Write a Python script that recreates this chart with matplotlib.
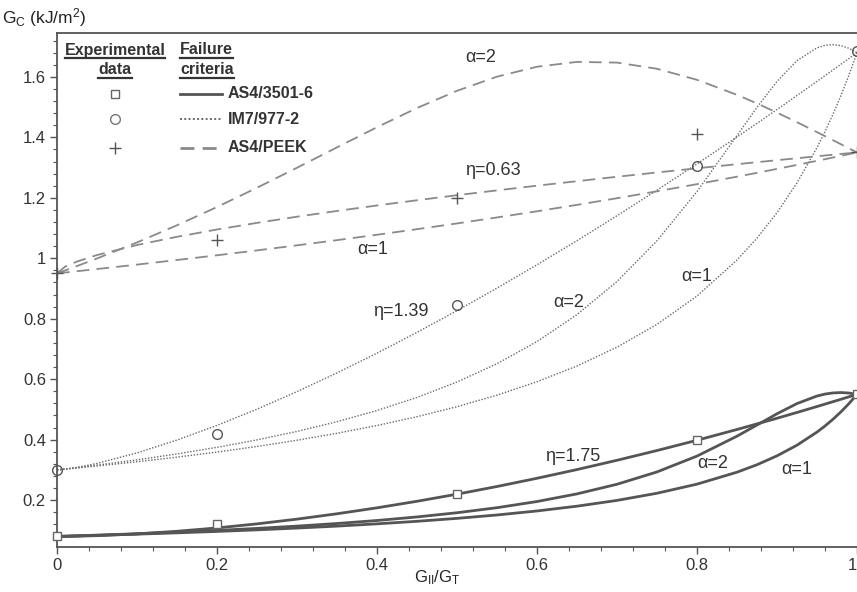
import matplotlib
matplotlib.use("Agg")
import matplotlib.pyplot as plt
from matplotlib.lines import Line2D
from matplotlib.ticker import MultipleLocator, FixedLocator

plt.rcParams['font.family'] = ['Liberation Sans', 'DejaVu Sans']
plt.rcParams['mathtext.fontset'] = 'custom'
plt.rcParams['mathtext.rm'] = 'Liberation Sans'
plt.rcParams['mathtext.it'] = 'Liberation Sans'
plt.rcParams['mathtext.bf'] = 'Liberation Sans:bold'

# ---- data ----
mode_ratio = [0, 0.01, 0.025, 0.05, 0.1, 0.15, 0.2, 0.25, 0.3, 0.35, 0.4, 0.45, 0.5,
              0.55, 0.6, 0.65, 0.7, 0.75, 0.8, 0.85, 0.875, 0.9, 0.925, 0.95,
              0.96, 0.97, 0.98, 0.99, 1.0]

# AS4/3501-6
as4_bk = [0.080, 0.0801, 0.0807, 0.0825, 0.0884, 0.0970, 0.1081, 0.1215, 0.1372, 0.1549,
          0.1746, 0.1962, 0.2197, 0.2451, 0.2723, 0.3011, 0.3318, 0.3641, 0.3980,
          0.4337, 0.4521, 0.4708, 0.4900, 0.5096, 0.5176, 0.5256, 0.5336, 0.5418, 0.55]
as4_a1 = [0.0800, 0.0807, 0.0818, 0.0836, 0.0875, 0.0918, 0.0965, 0.1017, 0.1076, 0.1141,
          0.1216, 0.1300, 0.1397, 0.1509, 0.1642, 0.1800, 0.1991, 0.2228, 0.2529,
          0.2924, 0.3171, 0.3465, 0.3818, 0.4251, 0.4453, 0.4676, 0.4922, 0.5195, 0.55]
as4_a2 = [0.0800, 0.0808, 0.0821, 0.0842, 0.0889, 0.0941, 0.0999, 0.1065, 0.1141, 0.1227,
          0.1327, 0.1444, 0.1583, 0.1750, 0.1954, 0.2207, 0.2525, 0.2933, 0.3457,
          0.4116, 0.4485, 0.4856, 0.5194, 0.5444, 0.5508, 0.5546, 0.5558, 0.5542, 0.55]

# IM7/977-2
im7_bk = [0.300, 0.3023, 0.3082, 0.3215, 0.3562, 0.3988, 0.4472, 0.5009, 0.5589, 0.6207,
          0.6861, 0.7548, 0.8266, 0.9013, 0.9784, 1.0583, 1.1406, 1.2252, 1.3121,
          1.4010, 1.4462, 1.4919, 1.5383, 1.5851, 1.6040, 1.6227, 1.6418, 1.6608, 1.68]
im7_a1 = [0.3000, 0.3025, 0.3063, 0.3129, 0.3269, 0.3422, 0.3590, 0.3775, 0.3981, 0.4211,
          0.4468, 0.4759, 0.5091, 0.5472, 0.5916, 0.6437, 0.7059, 0.7814, 0.8750,
          0.9941, 1.0667, 1.1507, 1.2491, 1.3659, 1.4189, 1.4763, 1.5385, 1.6061, 1.68]
im7_a2 = [0.3000, 0.3030, 0.3077, 0.3158, 0.3333, 0.3528, 0.3746, 0.3993, 0.4273, 0.4594,
          0.4965, 0.5397, 0.5907, 0.6513, 0.7245, 0.8136, 0.9231, 1.0578, 1.2206,
          1.4058, 1.4993, 1.5849, 1.6537, 1.6963, 1.7042, 1.7065, 1.7032, 1.6943, 1.68]

# AS4/PEEK
peek_bk = [0.950, 0.9720, 0.9891, 1.0106, 1.0438, 1.0710, 1.0951, 1.1170, 1.1374, 1.1564,
           1.1746, 1.1918, 1.2085, 1.2245, 1.2400, 1.2549, 1.2695, 1.2837, 1.2975,
           1.3111, 1.3177, 1.3243, 1.3308, 1.3373, 1.3398, 1.3424, 1.3450, 1.3474, 1.35]
peek_a1 = [0.9500, 0.9528, 0.9571, 0.9643, 0.9790, 0.9942, 1.0098, 1.0260, 1.0427, 1.0599,
           1.0777, 1.0962, 1.1152, 1.1350, 1.1554, 1.1766, 1.1986, 1.2214, 1.2451,
           1.2698, 1.2825, 1.2955, 1.3087, 1.3222, 1.3276, 1.3332, 1.3387, 1.3443, 1.35]
peek_a2 = [0.9500, 0.9596, 0.9742, 0.9993, 1.0523, 1.1091, 1.1695, 1.2332, 1.2993, 1.3667,
           1.4334, 1.4969, 1.5538, 1.6006, 1.6334, 1.6494, 1.6471, 1.6267, 1.5901,
           1.5405, 1.5120, 1.4817, 1.4499, 1.4171, 1.4038, 1.3904, 1.3770, 1.3635, 1.35]

# experimental points
exp_x = [0, 0.2, 0.5, 0.8, 1.0]
as4_exp = [0.08, 0.12, 0.22, 0.40, 0.55]
im7_exp = [0.30, 0.42, 0.845, 1.305, 1.685]
peek_x = [0, 0.2, 0.5, 0.8, 1.0]
peek_exp = [0.95, 1.06, 1.20, 1.41, 1.35]

W, H = 857, 592
fig = plt.figure(figsize=(W / 100, H / 100), dpi=100)
ax = fig.add_axes([57 / W, 1 - 547 / H, 800 / W, (547 - 33) / H])

c_as4 = '#555555'
c_im7 = '#6a6a6a'
c_peek = '#8a8a8a'

dash_peek = (0, (7, 4))
dot_im7 = (0, (1, 1.2))

for ys in (as4_bk, as4_a1, as4_a2):
    ax.plot(mode_ratio, ys, color=c_as4, lw=2.0, solid_capstyle='round')
for ys in (im7_bk, im7_a1, im7_a2):
    ax.plot(mode_ratio, ys, color=c_im7, lw=1.0, linestyle=dot_im7)
for ys in (peek_bk, peek_a1, peek_a2):
    ax.plot(mode_ratio, ys, color=c_peek, lw=1.3, linestyle=dash_peek)

ax.plot(exp_x, as4_exp, linestyle='none', marker='s', ms=6, mfc='white', mec='#666666',
        mew=1.0, clip_on=False, zorder=5)
ax.plot(exp_x, im7_exp, linestyle='none', marker='o', ms=7, mfc='none', mec='#555555',
        mew=1.0, clip_on=False, zorder=5)
ax.plot(peek_x, peek_exp, linestyle='none', marker='+', ms=8, mec='#555555',
        mew=1.0, clip_on=False, zorder=5)

ax.set_xlim(0, 1.0)
ax.set_ylim(0.045, 1.745)
ax.spines['right'].set_visible(False)
for s in ('left', 'bottom', 'top'):
    ax.spines[s].set_color('#555555')
    ax.spines[s].set_linewidth(1.3)

ax.xaxis.set_major_locator(FixedLocator([0, 0.2, 0.4, 0.6, 0.8, 1.0]))
ax.set_xticklabels(['0', '0.2', '0.4', '0.6', '0.8', '1'])
ax.xaxis.set_minor_locator(MultipleLocator(0.04))
ax.yaxis.set_major_locator(FixedLocator([0.2, 0.4, 0.6, 0.8, 1.0, 1.2, 1.4, 1.6]))
ax.set_yticklabels(['0.2', '0.4', '0.6', '0.8', '1', '1.2', '1.4', '1.6'])
ax.yaxis.set_minor_locator(MultipleLocator(0.04))
ax.tick_params(axis='both', which='major', direction='out', length=5, width=1,
               color='#555555', labelsize=12, labelcolor='#333333', pad=3)
ax.tick_params(axis='both', which='minor', direction='out', length=3, width=0.8,
               color='#555555')
ax.tick_params(axis='x', which='both', top=False)
ax.get_xticklabels()[-1].set_horizontalalignment('right')

# axis titles
fig.text(2 / W, 1 - 18 / H, r'G$_\mathrm{C}$ (kJ/m$^\mathrm{2}$)', fontsize=12.5,
         color='#222222', ha='left', va='center')
fig.text(437 / W, 1 - 578 / H, r'G$_\mathrm{II}$/G$_\mathrm{T}$', fontsize=12,
         color='#222222', ha='center', va='center')

# curve annotations
ann = [
    (0.53, 1.665, 'α=2'),
    (0.545, 1.29, 'η=0.63'),
    (0.395, 1.03, 'α=1'),
    (0.43, 0.825, 'η=1.39'),
    (0.64, 0.855, 'α=2'),
    (0.80, 0.94, 'α=1'),
    (0.645, 0.345, 'η=1.75'),
    (0.82, 0.32, 'α=2'),
    (0.925, 0.30, 'α=1'),
]
for x, y, t in ann:
    ax.text(x, y, t, fontsize=13, color='#333333', ha='center', va='center')

# custom legend (in figure pixel coordinates)
def fx(px):
    return px / W

def fy(py):
    return 1 - py / H

hdr = dict(fontsize=11.5, fontweight='bold', color='#333333', va='center')
t1 = fig.text(fx(115), fy(50), 'Experimental', ha='center', **hdr)
t2 = fig.text(fx(115), fy(70), 'data', ha='center', **hdr)
t3 = fig.text(fx(180), fy(50), 'Failure', ha='left', **hdr)
t4 = fig.text(fx(180), fy(70), 'criteria', ha='left', **hdr)

fig.canvas.draw()
rend = fig.canvas.get_renderer()
for t in (t1, t2, t3, t4):
    bb = t.get_window_extent(renderer=rend)
    yline = bb.y0 - 0.5
    fig.add_artist(Line2D([bb.x0 / W, bb.x1 / W], [yline / H, yline / H],
                          color='#333333', lw=1.6, transform=fig.transFigure))

rows = [
    (94, 's', dict(ms=6, mfc='white', mec='#666666'), '-', c_as4, 2.0, 'AS4/3501-6'),
    (119, 'o', dict(ms=7, mfc='none', mec='#777777'), dot_im7, c_im7, 1.4, 'IM7/977-2'),
    (148, '+', dict(ms=9, mec='#555555'), (0, (5, 3)), c_peek, 2.0, 'AS4/PEEK'),
]
for py, mk, mkw, ls, col, lw, lab in rows:
    fig.add_artist(Line2D([fx(115)], [fy(py)], marker=mk, linestyle='none', mew=1.0,
                          transform=fig.transFigure, **mkw))
    fig.add_artist(Line2D([fx(180), fx(222)], [fy(py), fy(py)], color=col, lw=lw,
                          linestyle=ls, transform=fig.transFigure))
    fig.text(fx(228), fy(py), lab, fontsize=11.5, fontweight='bold', color='#333333',
             ha='left', va='center')

fig.savefig('out.png', dpi=100)
